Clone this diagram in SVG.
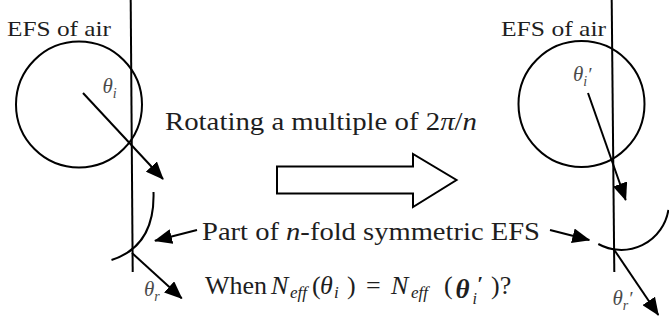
<svg xmlns="http://www.w3.org/2000/svg" width="669" height="320" viewBox="0 0 669 320">
<defs>
<style>
.ln{fill:none;stroke:#000;stroke-width:2}
.ar{fill:none;stroke:#000;stroke-width:2;marker-end:url(#ah)}
text{font-family:"Liberation Serif","Noto Serif","DejaVu Serif",Times,serif}
.t{fill:#1e1e1e}
.it{font-style:italic}
.th{font-style:italic;fill:#4a4a4a}
</style>
<marker id="ah" viewBox="0 0 18 15" refX="17" refY="7.5" markerWidth="18" markerHeight="15" markerUnits="userSpaceOnUse" orient="auto">
<path d="M0,0 L18,7.5 L0,15 z" fill="#000"/>
</marker>
</defs>
<rect width="669" height="320" fill="#fff"/>

<g id="left-interface">
<line class="ln" x1="130.7" y1="0" x2="132.7" y2="272"/>
</g>
<g id="left-efs-air">
<circle class="ln" cx="79" cy="104.5" r="63"/>
<text class="t" x="7" y="36" font-size="22" textLength="104" lengthAdjust="spacingAndGlyphs">EFS of air</text>
</g>
<g id="left-symmetric-efs">
<path class="ln" d="M153.5,192 C154.5,225 143,250 111.5,260"/>
</g>
<g id="left-theta-i"><text class="th" x="102.5" y="93" font-size="21">θ<tspan font-size="14" dy="4.5">i</tspan></text></g>
<g id="left-theta-r"><text class="th" x="144" y="296" font-size="21">θ<tspan font-size="14" dy="4.5">r</tspan></text></g>

<g id="right-interface">
<line class="ln" x1="611.7" y1="0" x2="614.3" y2="272"/>
</g>
<g id="right-efs-air">
<circle class="ln" cx="581.5" cy="104" r="63"/>
<text class="t" x="501" y="36" font-size="22" textLength="105" lengthAdjust="spacingAndGlyphs">EFS of air</text>
</g>
<g id="right-symmetric-efs">
<path class="ln" d="M598.3,244 A47.7,47.7 0 0 0 668.4,209.9"/>
</g>
<g id="right-theta-i"><text class="th" x="573" y="81" font-size="21">θ<tspan font-size="14" dy="4.5">i</tspan><tspan font-size="19" dy="-4.5">′</tspan></text></g>
<g id="right-theta-r"><text class="th" x="612.5" y="305" font-size="21">θ<tspan font-size="14" dy="4.5">r</tspan><tspan font-size="19" dy="-4.5">′</tspan></text></g>

<g id="rotation">
<polygon class="ln" points="277,166.5 413,166.5 413,154 456.5,180 413,207 413,193.5 277,193.5"/>
<text class="t" x="165" y="129.5" font-size="25" textLength="312" lengthAdjust="spacingAndGlyphs">Rotating a multiple of 2<tspan class="it">π</tspan>/<tspan class="it">n</tspan></text>
</g>

<g id="symmetric-efs-label">
<text class="t" x="202" y="240" font-size="25" textLength="338" lengthAdjust="spacingAndGlyphs">Part of <tspan class="it">n</tspan>-fold symmetric EFS</text>
</g>

<g id="question">
<text class="t" y="293.5" font-size="26"><tspan x="205">When</tspan><tspan class="it" x="271">N</tspan><tspan class="it" x="290" dy="4.5" font-size="17">eff</tspan><tspan x="312" dy="-4.5">(</tspan><tspan class="it" x="320">θ</tspan><tspan class="it" x="334" dy="4.5" font-size="17">i</tspan><tspan x="347" dy="-4.5">)</tspan><tspan x="366">=</tspan><tspan class="it" x="391">N</tspan><tspan class="it" x="411" dy="4.5" font-size="17">eff</tspan><tspan x="444" dy="-4.5">(</tspan><tspan class="it" x="455.5" dy="4" font-size="27" font-weight="bold">θ</tspan><tspan class="it" x="472.5" dy="6" font-size="16">i</tspan><tspan class="it" x="477" dy="-13" font-size="21" font-weight="bold">′</tspan><tspan x="491" dy="3">)?</tspan></text>
</g>

<g id="connectors">
<line class="ar" x1="83" y1="93" x2="163" y2="179"/>
<line class="ar" x1="132" y1="253" x2="181.7" y2="298.3"/>
<line class="ar" x1="197" y1="230" x2="155" y2="240.7"/>
<line class="ar" x1="588" y1="93" x2="625.7" y2="200"/>
<line class="ar" x1="614" y1="249.5" x2="658.3" y2="315"/>
<line class="ar" x1="550" y1="230" x2="589.3" y2="240"/>
</g>
</svg>
